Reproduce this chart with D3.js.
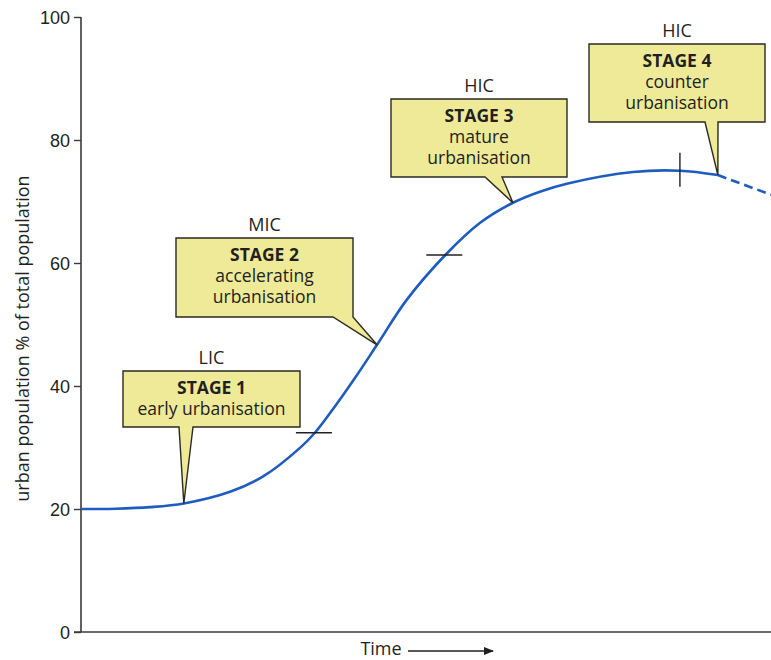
<!DOCTYPE html>
<html><head><meta charset="utf-8">
<script src="https://cdn.jsdelivr.net/npm/d3@7"></script>
<style>
html,body{margin:0;padding:0;background:#fff;}
svg{display:block;font-family:"Open Sans","Noto Sans",sans-serif;}
</style></head>
<body><svg id="c" width="771" height="660"></svg>
<script>
// ---- data ----
const timeT    = [0, 5, 10, 14.9, 21.6, 26.4, 31.7, 33.9, 36.1, 39.7, 42.9, 47.2, 52.8, 57.8, 62.6, 66.5, 70.4, 80, 86.8, 92.3, 100];
const urbanPct = [20, 20.05, 20.3, 20.9, 22.8, 25.3, 29.9, 32.4, 35.6, 41.3, 46.7, 54.0, 61.3, 66.5, 69.8, 71.6, 72.9, 74.8, 75.0, 74.3, 71.1];
const dashFromT = 92.3;
const yTicks = [0, 20, 40, 60, 80, 100];
const stageNames  = ["STAGE 1", "STAGE 2", "STAGE 3", "STAGE 4"];
const stageDesc   = [["early urbanisation"], ["accelerating", "urbanisation"], ["mature", "urbanisation"], ["counter", "urbanisation"]];
const stageIncome = ["LIC", "MIC", "HIC", "HIC"];
const stageTipT   = [14.9, 42.9, 62.6, 92.3];
const boundaryT   = [33.9, 52.8, 86.8];
const boundaryDir = ["h", "h", "v"];
const yLabel = "urban population % of total population";
const xLabel = "Time";

// ---- layout ----
const boxes = [
  {x0:123, x1:300, y0:371, y1:427, b0:179, b1:193},
  {x0:176, x1:353, y0:238, y1:317, b0:333, b1:353},
  {x0:391, x1:567, y0:99,  y1:177, b0:485, b1:502},
  {x0:589, x1:765, y0:44,  y1:122, b0:705, b1:718}
];
const ink = "#231f20", lineCol = "#1e5cbf", boxFill = "#eeea98", fs = "18px", bfs = "17.5px";

const svg = d3.select("#c");
const x = d3.scaleLinear().domain([0, 100]).range([81, 771]);
const y = d3.scaleLinear().domain([0, 100]).range([632, 17]);
const pts = timeT.map((t, i) => ({t, v: urbanPct[i]}));
const valAt = t => { const i = timeT.indexOf(t); return i >= 0 ? urbanPct[i] : d3.scaleLinear().domain(timeT).range(urbanPct)(t); };

// axes
const yAxis = svg.append("g").attr("transform", "translate(81,0)")
  .call(d3.axisLeft(y).tickValues(yTicks).tickSize(7).tickPadding(4));
yAxis.select(".domain").attr("stroke", "#3a3a3a").attr("stroke-width", 1.6).attr("d", `M0,${y(100)}V${y(0)}`);
yAxis.selectAll(".tick line").attr("stroke", "#3a3a3a").attr("stroke-width", 1.4);
yAxis.selectAll(".tick text").attr("fill", ink).style("font-size", fs).attr("dy", "0.36em");

svg.append("line").attr("x1", 74).attr("x2", 771).attr("y1", y(0)).attr("y2", y(0))
  .attr("stroke", "#3a3a3a").attr("stroke-width", 1.6);

svg.append("text").attr("transform", `translate(29,${(y(0)+y(100))/2 + 14}) rotate(-90)`)
  .attr("text-anchor", "middle").attr("fill", ink).style("font-size", fs).text(yLabel);

svg.append("text").attr("x", 381).attr("y", 655).attr("text-anchor", "middle")
  .attr("fill", ink).style("font-size", fs).text(xLabel);
svg.append("defs").append("marker").attr("id", "ah").attr("viewBox", "0 0 10 10")
  .attr("refX", 9).attr("refY", 5).attr("markerWidth", 10).attr("markerHeight", 10)
  .attr("markerUnits", "userSpaceOnUse").attr("orient", "auto")
  .append("path").attr("d", "M0,1L10,5L0,9Z").attr("fill", ink);
svg.append("line").attr("x1", 408).attr("x2", 493).attr("y1", 651).attr("y2", 651)
  .attr("stroke", ink).attr("stroke-width", 1.5).attr("marker-end", "url(#ah)");

// curve
const line = d3.line().x(d => x(d.t)).y(d => y(d.v)).curve(d3.curveCatmullRom.alpha(0.5));
svg.append("path").datum(pts.filter(d => d.t <= dashFromT)).attr("d", line)
  .attr("fill", "none").attr("stroke", lineCol).attr("stroke-width", 2.6);
svg.append("path").datum(pts.filter(d => d.t >= dashFromT)).attr("d", line)
  .attr("fill", "none").attr("stroke", lineCol).attr("stroke-width", 2.6).attr("stroke-dasharray", "9,5");

// stage boundary ticks
boundaryT.forEach((t, i) => {
  const cx = x(t), cy = y(valAt(t));
  const g = svg.append("line").attr("stroke", ink).attr("stroke-width", 1.4);
  if (boundaryDir[i] === "h") g.attr("x1", cx - 19).attr("x2", cx + 17).attr("y1", cy).attr("y2", cy);
  else g.attr("x1", cx).attr("x2", cx).attr("y1", cy - 18).attr("y2", cy + 16);
});

// callouts
stageNames.forEach((name, i) => {
  const b = boxes[i];
  const tx = x(stageTipT[i]), ty = y(valAt(stageTipT[i]));
  const p = d3.path();
  p.moveTo(b.x0, b.y0); p.lineTo(b.x1, b.y0); p.lineTo(b.x1, b.y1);
  p.lineTo(b.b1, b.y1); p.lineTo(tx, ty); p.lineTo(b.b0, b.y1);
  p.lineTo(b.x0, b.y1); p.closePath();
  svg.append("path").attr("d", p.toString()).attr("fill", boxFill)
    .attr("stroke", "#2a2a22").attr("stroke-width", 1.4).attr("stroke-linejoin", "miter");
  const cx = (b.x0 + b.x1) / 2;
  svg.append("text").attr("x", cx).attr("y", b.y0 - 7).attr("text-anchor", "middle")
    .attr("fill", ink).style("font-size", fs).text(stageIncome[i]);
  svg.append("text").attr("x", cx).attr("y", b.y0 + 23).attr("text-anchor", "middle")
    .attr("fill", ink).style("font-size", bfs).style("font-weight", "bold").text(name);
  stageDesc[i].forEach((s, j) => {
    svg.append("text").attr("x", cx).attr("y", b.y0 + 44 + j * 21).attr("text-anchor", "middle")
      .attr("fill", ink).style("font-size", bfs).text(s);
  });
});
</script></body></html>
